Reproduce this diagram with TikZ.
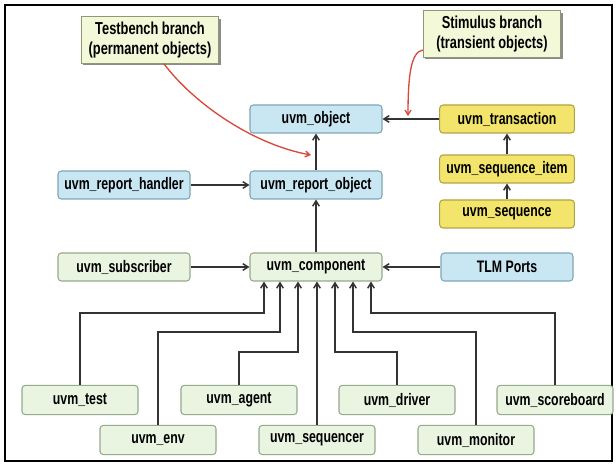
\documentclass[tikz,border=0pt]{standalone}
\usepackage{fontspec}
\setmainfont{Liberation Sans}[FakeStretch=0.74]
\usetikzlibrary{arrows.meta,shadows,calc}
\definecolor{bluefill}{HTML}{C8E7F3}
\definecolor{bluedraw}{HTML}{7FA6B6}
\definecolor{yelfill}{HTML}{F3E56C}
\definecolor{yeldraw}{HTML}{B3A245}
\definecolor{grnfill}{HTML}{EAF5E1}
\definecolor{grndraw}{HTML}{98A88D}
\definecolor{notefill}{HTML}{F3F8D9}
\definecolor{notedraw}{HTML}{8C9A74}
\definecolor{linkred}{HTML}{D8483B}
\tikzset{
  box/.style={draw, rounded corners=2.5pt, line width=0.8pt, inner sep=1pt,
    minimum height=21pt, font=\fontsize{12.5}{14}\selectfont\bfseries},
  bluebox/.style={box, fill=bluefill, draw=bluedraw, minimum width=99pt},
  yelbox/.style={box, fill=yelfill, draw=yeldraw, minimum width=101pt},
  grnbox/.style={box, fill=grnfill, draw=grndraw, minimum width=99pt},
  leafbox/.style={box, fill=grnfill, draw=grndraw, minimum width=87pt, minimum height=22pt},
  notebox/.style={draw=notedraw, fill=notefill, line width=0.8pt, align=center,
    minimum width=103pt, minimum height=35pt, inner sep=1pt,
    font=\fontsize{13}{14.5}\selectfont\bfseries,
    drop shadow={shadow xshift=1.5pt, shadow yshift=-1.5pt, fill=black!45, opacity=1}},
  arr/.style={-{Straight Barb[length=4pt,width=5pt]}, line width=1.1pt, draw=black!80},
  redarr/.style={-{Straight Barb[length=3.5pt,width=4.5pt]}, line width=1pt, draw=linkred}
}
\begin{document}
\begin{tikzpicture}[x=0.75pt,y=-0.75pt]
\useasboundingbox (0,0) rectangle (616,466);
\draw[line width=2.2pt] (5,5) rectangle (612,461);

\node[notebox] (testbench) at (150,40) {Testbench branch\\(permanent objects)};
\node[notebox] (stimulus) at (492,34) {Stimulus branch\\(transient objects)};

\node[bluebox] (object) at (316,119) {uvm\_object};
\node[yelbox] (transaction) at (507,119) {uvm\_transaction};
\node[yelbox] (seqitem) at (507,169) {uvm\_sequence\_item};
\node[yelbox] (sequence) at (507,214) {uvm\_sequence};
\node[bluebox] (handler) at (124,185) {uvm\_report\_handler};
\node[bluebox] (reportobj) at (316,185) {uvm\_report\_object};
\node[grnbox] (subscriber) at (124,267) {uvm\_subscriber};
\node[grnbox] (component) at (316,267) {uvm\_component};
\node[bluebox] (tlm) at (507,267) {TLM Ports};

\node[leafbox] (test) at (80,400) {uvm\_test};
\node[leafbox] (agent) at (239,400) {uvm\_agent};
\node[leafbox] (driver) at (397,400) {uvm\_driver};
\node[leafbox] (scoreboard) at (555,400) {uvm\_scoreboard};
\node[leafbox] (env) at (158,440) {uvm\_env};
\node[leafbox] (sequencer) at (317,440) {uvm\_sequencer};
\node[leafbox] (monitor) at (476,440) {uvm\_monitor};

\draw[arr] (transaction) -- (object);
\draw[arr] (seqitem) -- (transaction);
\draw[arr] (sequence) -- (seqitem);
\draw[arr] (reportobj) -- (object);
\draw[arr] (handler) -- (reportobj);
\draw[arr] (component) -- (reportobj);
\draw[arr] (subscriber) -- (component);
\draw[arr] (tlm) -- (component);

\foreach \leaf/\dx/\lv in {test/-52/313, env/-36/332, agent/-18/352, driver/19/352, monitor/37/332, scoreboard/55/313}
  \draw[arr] (\leaf.north) -- (\leaf.north |- 0,\lv) -| ($(component.south)+(\dx,0)$);
\draw[arr] (sequencer.north) -- (sequencer.north |- component.south);

\coordinate (tbtip) at (311,155);
\coordinate (sttip) at (408,116);
\draw[redarr] ($(testbench.south)+(14,0)$) .. controls (195,105) and (255,145) .. (tbtip);
\draw[redarr] ($(stimulus.west)+(0,16)$) .. controls (411,52) and (408,75) .. (sttip);
\end{tikzpicture}
\end{document}
